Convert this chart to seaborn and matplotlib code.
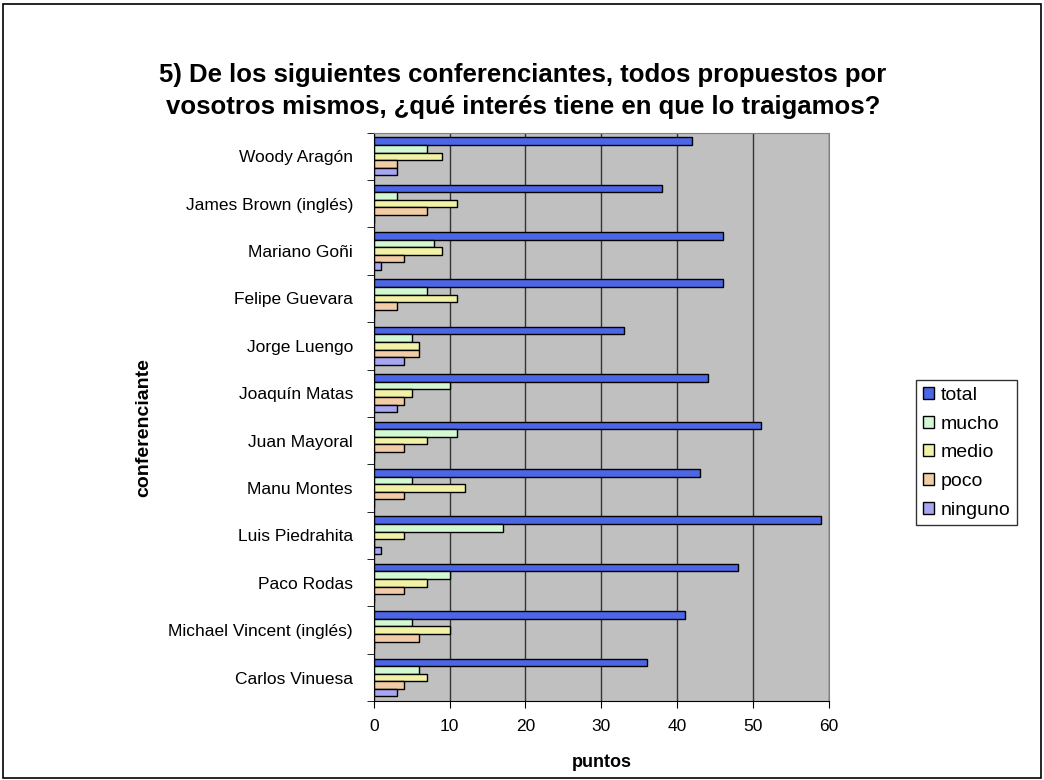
import pandas as pd
import seaborn as sns
import matplotlib.pyplot as plt
from matplotlib.patches import Rectangle

speakers = ["Woody Aragón", "James Brown (inglés)", "Mariano Goñi", "Felipe Guevara",
            "Jorge Luengo", "Joaquín Matas", "Juan Mayoral", "Manu Montes",
            "Luis Piedrahita", "Paco Rodas", "Michael Vincent (inglés)", "Carlos Vinuesa"]
series = ["total", "mucho", "medio", "poco", "ninguno"]
total = [42, 38, 46, 46, 33, 44, 51, 43, 59, 48, 41, 36]
mucho = [7, 3, 8, 7, 5, 10, 11, 5, 17, 10, 5, 6]
medio = [9, 11, 9, 11, 6, 5, 7, 12, 4, 7, 10, 7]
poco = [3, 7, 4, 3, 6, 4, 4, 4, 0, 4, 6, 4]
ninguno = [3, 0, 1, 0, 4, 3, 0, 0, 1, 0, 0, 3]
colors = ["#3355FF", "#CCFFCC", "#FFFF99", "#FFCC99", "#9999FF"]

values = {"total": total, "mucho": mucho, "medio": medio, "poco": poco, "ninguno": ninguno}
rows = []
for s in series:
    for name, v in zip(speakers, values[s]):
        rows.append({"conferenciante": name, "serie": s, "puntos": v})
df = pd.DataFrame(rows)

sns.set_style("white")
plt.rcParams["font.family"] = ["Liberation Sans", "DejaVu Sans"]
plt.rcParams["text.color"] = "black"
plt.rcParams["axes.labelcolor"] = "black"
plt.rcParams["xtick.color"] = "black"
plt.rcParams["ytick.color"] = "black"

fig = plt.figure(figsize=(10.44, 7.8), dpi=100)
ax = fig.add_axes([0.358, 0.101, 0.436, 0.729])
ax.set_facecolor("#C0C0C0")

sns.barplot(data=df, y="conferenciante", x="puntos", hue="serie", order=speakers,
            hue_order=series, palette=colors, orient="h", width=0.8,
            edgecolor="black", linewidth=1.0, ax=ax)

ax.set_xlim(0, 60)
ax.set_ylim(len(speakers) - 0.5, -0.5)
ax.set_xticks(range(0, 61, 10))
ax.xaxis.grid(True, color="#333333", linewidth=1.0)
ax.set_axisbelow(True)
for sp in ax.spines.values():
    sp.set_color("#808080")
ax.spines["left"].set_color("black")
ax.spines["bottom"].set_color("black")
ax.tick_params(axis="y", length=0, labelsize=12.5, pad=15)
ax.tick_params(axis="x", length=5, labelsize=12.5, direction="out", bottom=True, pad=8)
ax.set_yticks([i + 0.5 for i in range(-1, len(speakers))], minor=True)
ax.tick_params(axis="y", which="minor", length=5, left=True)

ax.set_xlabel("puntos", fontsize=13, fontweight="bold", labelpad=14)
ax.set_ylabel("conferenciante", fontsize=14, fontweight="bold")
ax.yaxis.set_label_coords(-0.486, 0.482)

fig.text(0.501, 0.883, "5) De los siguientes conferenciantes, todos propuestos por\n"
         "vosotros mismos, ¿qué interés tiene en que lo traigamos?",
         ha="center", va="center", fontsize=18.5, fontweight="bold", linespacing=1.4)

leg = ax.legend(loc="center left", bbox_to_anchor=(1.191, 0.437), frameon=True,
                fontsize=14, handlelength=0.57, handleheight=0.57, handletextpad=0.36,
                labelspacing=0.6, borderpad=0.35, borderaxespad=0, fancybox=False,
                edgecolor="black")
leg.get_frame().set_linewidth(1.0)

fig.patches.append(Rectangle((0.003, 0.003), 0.994, 0.992, transform=fig.transFigure,
                             fill=False, edgecolor="black", linewidth=1.2))

plt.savefig("out.png", dpi=100)
